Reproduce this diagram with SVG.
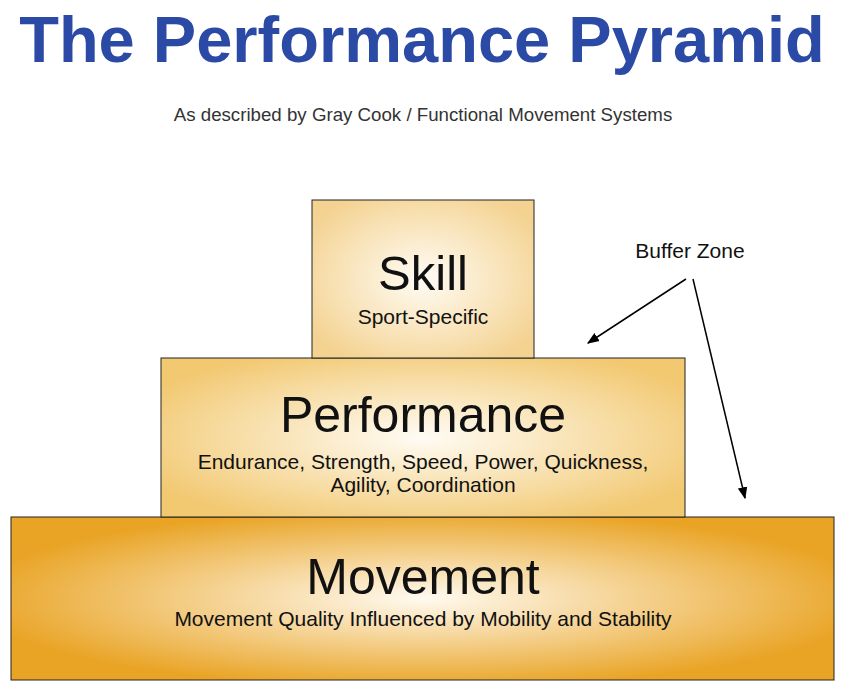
<svg xmlns="http://www.w3.org/2000/svg" width="846" height="692" viewBox="0 0 846 692">
<style>
text{font-family:"Liberation Sans",Arial,sans-serif;text-anchor:middle;fill:#111}
.box{stroke:#222;stroke-width:1}
.big{font-size:49px}
.sm{font-size:21px}
</style>
<defs>
<radialGradient id="g1" cx="0.5" cy="0.5" r="0.6"><stop offset="0" stop-color="#fffcf5"/><stop offset="1" stop-color="#f4d392"/></radialGradient>
<radialGradient id="g2" cx="0.5" cy="0.5" r="0.6"><stop offset="0" stop-color="#fffcf5"/><stop offset="1" stop-color="#f2c870"/></radialGradient>
<radialGradient id="g3" cx="0.5" cy="0.5" r="0.55"><stop offset="0" stop-color="#fffaf0"/><stop offset="1" stop-color="#e9a425"/></radialGradient>
<marker id="ah" viewBox="0 0 10 10" refX="9" refY="5" markerWidth="8" markerHeight="8" orient="auto"><path d="M0,1 L10,5 L0,9 z" fill="#000"/></marker>
</defs>
<rect width="846" height="692" fill="#fff"/>
<text x="422" y="62" style="font-size:65px;font-weight:bold;fill:#2b4aa6">The Performance Pyramid</text>
<text x="423" y="121" style="font-size:18.7px;fill:#333">As described by Gray Cook / Functional Movement Systems</text>
<g id="movement"><rect class="box" x="11" y="517" width="823" height="163" fill="url(#g3)"/>
<text class="big" x="423" y="594" style="font-size:50px">Movement</text>
<text class="sm" x="423" y="626">Movement Quality Influenced by Mobility and Stability</text></g>
<g id="performance"><rect class="box" x="161" y="358" width="524" height="159" fill="url(#g2)"/>
<text class="big" x="423" y="432" style="font-size:50px">Performance</text>
<text class="sm" x="423" y="469">Endurance, Strength, Speed, Power, Quickness,</text>
<text class="sm" x="423" y="492">Agility, Coordination</text></g>
<g id="skill"><rect class="box" x="312" y="200" width="222" height="158" fill="url(#g1)"/>
<text class="big" x="423" y="290">Skill</text>
<text class="sm" x="423" y="324">Sport-Specific</text></g>
<g id="buffer"><text class="sm" x="690" y="258">Buffer Zone</text></g>
<g id="connectors" stroke="#000" stroke-width="1.5" fill="none">
<line x1="686" y1="279" x2="588" y2="343" marker-end="url(#ah)"/>
<line x1="693" y1="279" x2="745" y2="498" marker-end="url(#ah)"/>
</g>
</svg>
